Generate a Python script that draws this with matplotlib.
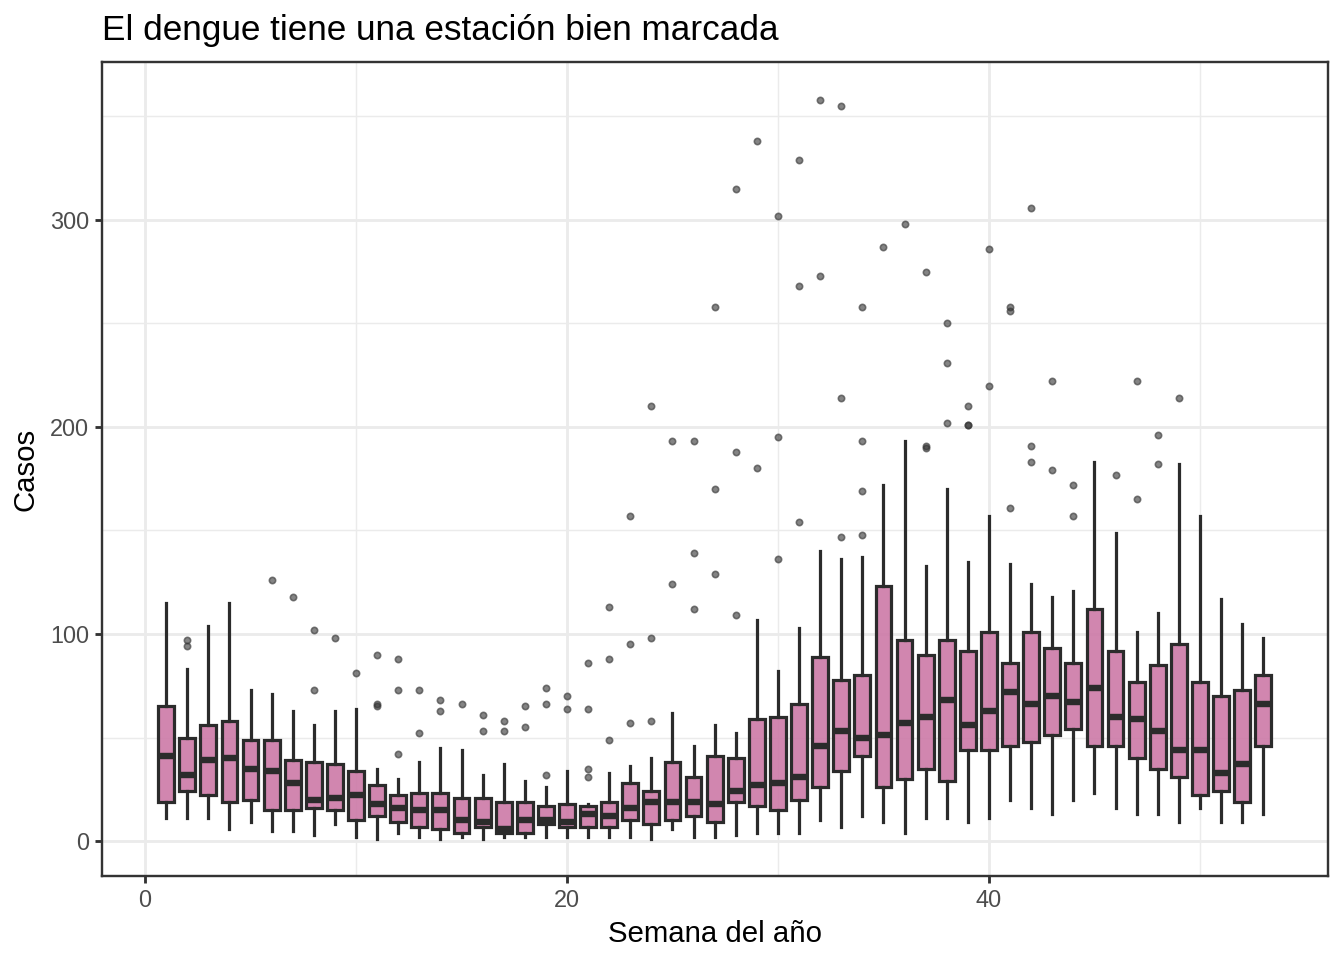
import matplotlib
matplotlib.use("Agg")
import matplotlib.pyplot as plt
from matplotlib.ticker import MultipleLocator

plt.rcParams['font.family'] = ['Liberation Sans', 'DejaVu Sans']

# datos: casos por semana epidemiologica
semanas = list(range(1, 54))
bigote_inf = [11, 11, 11, 6, 9, 5, 5, 3, 8, 2, 1, 4, 2, 1, 2, 1, 2, 2, 2, 2, 2, 2, 2, 1, 6, 2, 2,
              3, 4, 4, 4, 10, 7, 12, 9, 4, 11, 11, 9, 11, 20, 16, 13, 20, 23, 16, 13, 13, 9, 16,
              9, 9, 13]
q1 = [19, 24, 22, 19, 20, 15, 15, 16, 15, 10, 12, 9, 7, 6, 4, 7, 4, 4, 8, 7, 7, 7, 10, 8, 10, 12,
      9, 19, 17, 15, 20, 26, 34, 41, 26, 30, 35, 29, 44, 44, 46, 48, 51, 54, 46, 46, 40, 35, 31,
      22, 24, 19, 46]
mediana = [41, 32, 39, 40, 35, 34, 28, 20, 21, 22, 18, 16, 15, 15, 10, 9, 6, 10, 10, 9, 13, 12,
           16, 19, 19, 19, 18, 24, 27, 28, 31, 46, 53, 50, 51, 57, 60, 68, 56, 63, 72, 66, 70,
           67, 74, 60, 59, 53, 44, 44, 33, 37, 66]
q3 = [65, 50, 56, 58, 49, 49, 39, 38, 37, 34, 27, 22, 23, 23, 21, 21, 19, 19, 17, 18, 17, 19, 28,
      24, 38, 31, 41, 40, 59, 60, 66, 89, 78, 80, 123, 97, 90, 97, 92, 101, 86, 101, 93, 86,
      112, 92, 77, 85, 95, 77, 70, 73, 80]
bigote_sup = [115, 83, 104, 115, 73, 71, 63, 56, 63, 64, 35, 30, 38, 45, 44, 32, 37, 29, 26, 34,
              18, 33, 36, 40, 62, 46, 56, 52, 107, 82, 103, 140, 136, 137, 172, 193, 133, 170,
              135, 157, 134, 124, 118, 121, 183, 149, 101, 110, 182, 157, 117, 105, 98]
atipicos = [[], [97, 94], [], [], [], [126], [118], [102, 73], [98], [81],
            [90, 66, 65], [88, 73, 42], [73, 52], [68, 63], [66], [61, 53], [58, 53], [65, 55],
            [74, 66, 32], [70, 64], [86, 64, 35, 31], [113, 88, 49], [157, 95, 57],
            [210, 98, 58], [193, 124], [193, 139, 112], [258, 170, 129], [315, 188, 109],
            [338, 180], [302, 195, 136], [329, 268, 154], [358, 273], [355, 214, 147],
            [258, 193, 169, 148], [287], [298], [275, 191, 190], [250, 231, 202],
            [210, 201, 201], [286, 220], [258, 256, 161], [306, 191, 183], [222, 179],
            [172, 157], [], [177], [222, 165], [196, 182], [214], [], [], [], []]

stats = []
for i in range(len(semanas)):
    stats.append({'whislo': bigote_inf[i], 'q1': q1[i], 'med': mediana[i], 'q3': q3[i],
                  'whishi': bigote_sup[i], 'fliers': atipicos[i]})

fig = plt.figure(figsize=(7, 5), dpi=192)
ax = fig.add_axes([102/1344, 84/960, (1328-102)/1344, (876-62)/960])

gris = '#2b2b2b'
rosa = (204/255, 121/255, 167/255, 0.9)
ax.bxp(stats, positions=semanas, widths=0.75, patch_artist=True, showcaps=False,
       manage_ticks=False,
       boxprops=dict(facecolor=rosa, edgecolor=gris, linewidth=1.2),
       whiskerprops=dict(color=gris, linewidth=1.2),
       medianprops=dict(color=gris, linewidth=2.4, solid_capstyle='butt'),
       flierprops=dict(marker='o', markersize=2.4, markeredgewidth=0.6,
                       markerfacecolor=(0.2, 0.2, 0.2, 0.6),
                       markeredgecolor=(0.2, 0.2, 0.2, 0.6), linestyle='none'))

ax.set_xlim(-2.04, 56.07)
ax.set_ylim(-16.9, 376.3)
ax.xaxis.set_major_locator(MultipleLocator(20))
ax.xaxis.set_minor_locator(MultipleLocator(10))
ax.yaxis.set_major_locator(MultipleLocator(100))
ax.yaxis.set_minor_locator(MultipleLocator(50))
ax.set_axisbelow(True)
ax.grid(which='major', color='#EBEBEB', linewidth=1.07)
ax.grid(which='minor', color='#EBEBEB', linewidth=0.55)
ax.tick_params(which='major', length=2.75, width=1.07, color='#333333', labelsize=8.8,
               labelcolor='#4D4D4D', pad=2.2)
ax.tick_params(which='minor', length=0)
for s in ax.spines.values():
    s.set_color('#333333')
    s.set_linewidth(0.9)

ax.set_xlabel('Semana del año', fontsize=11, labelpad=3)
ax.set_ylabel('Casos', fontsize=11, labelpad=4)
fig.text(102/1344, 1 - 40/960, 'El dengue tiene una estación bien marcada', fontsize=13.2,
         ha='left', va='baseline')

fig.savefig('out.png', dpi=192)
